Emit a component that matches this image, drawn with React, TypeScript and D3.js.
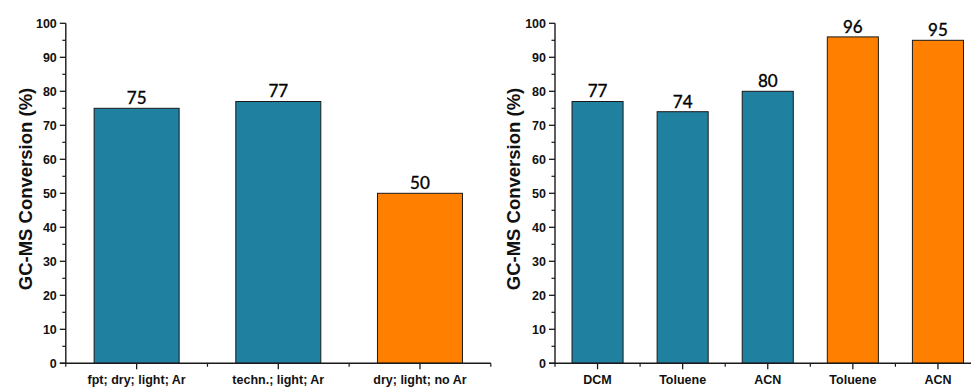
import React from "react";
import * as d3 from "d3";

// Left panel: reaction conditions
const leftCategories = ["fpt; dry; light; Ar", "techn.; light; Ar", "dry; light; no Ar"];
const leftValues = [75, 77, 50];
const leftColors = ["teal", "teal", "orange"];

// Right panel: solvent screen
const rightCategories = ["DCM", "Toluene", "ACN", "Toluene", "ACN"];
const rightValues = [77, 74, 80, 96, 95];
const rightColors = ["teal", "teal", "teal", "orange", "orange"];

const yMajorTicks = [0, 10, 20, 30, 40, 50, 60, 70, 80, 90, 100];
const yMinorTicks = [5, 15, 25, 35, 45, 55, 65, 75, 85, 95];

const yTitle = "GC-MS Conversion (%)";

const palette: Record<string, string> = { teal: "#2080A0", orange: "#FF8000" };

const W = 971;
const H = 388;
const axisColor = "#1a1a1a";

interface PanelProps {
  categories: string[];
  values: number[];
  colors: string[];
  x0: number;
  x1: number;
  titleX: number;
}

function Panel({ categories, values, colors, x0, x1, titleX }: PanelProps) {
  const y = d3.scaleLinear().domain([0, 100]).range([363.3, 23.3]);
  const n = categories.length;
  const x = d3.scaleLinear().domain([0.5, n + 0.5]).range([x0, x1]);
  const bw = (x(1.5) - x(0.5)) * 0.6;
  const minorX = d3.range(0, n + 1).map((i) => i + 0.5);
  const axisY = y(0);

  return (
    <g>
      {/* bars with value labels */}
      {values.map((v, i) => {
        const cx = x(i + 1);
        return (
          <g key={i}>
            <rect
              x={cx - bw / 2}
              y={y(v)}
              width={bw}
              height={axisY - y(v)}
              fill={palette[colors[i]]}
              stroke={axisColor}
              strokeWidth={1}
            />
            <text
              x={cx}
              y={y(v) - 4.2}
              textAnchor="middle"
              fontFamily="Lato, 'Open Sans', sans-serif"
              fontSize={17}
              fill="#000"
              stroke="#000"
              strokeWidth={0.35}
            >
              {v}
            </text>
          </g>
        );
      })}
      {/* y axis */}
      <line x1={x0} x2={x0} y1={y(100)} y2={axisY + 0.7} stroke={axisColor} strokeWidth={1.4} />
      {yMajorTicks.map((t) => (
        <g key={"ym" + t}>
          <line x1={x0 - 6} x2={x0} y1={y(t)} y2={y(t)} stroke={axisColor} strokeWidth={1.3} />
          <text
            x={x0 - 9}
            y={y(t) + 4.5}
            textAnchor="end"
            fontFamily="'Liberation Sans', Arial, sans-serif"
            fontWeight="bold"
            fontSize={12.5}
            fill="#111"
          >
            {t}
          </text>
        </g>
      ))}
      {yMinorTicks.map((t) => (
        <line key={"yn" + t} x1={x0 - 3.5} x2={x0} y1={y(t)} y2={y(t)} stroke={axisColor} strokeWidth={1.2} />
      ))}
      {/* x axis */}
      <line x1={x0 - 6} x2={x1} y1={axisY} y2={axisY} stroke={axisColor} strokeWidth={1.4} />
      {categories.map((c, i) => (
        <g key={"xc" + i}>
          <line x1={x(i + 1)} x2={x(i + 1)} y1={axisY} y2={axisY + 6} stroke={axisColor} strokeWidth={1.3} />
          <text
            x={x(i + 1)}
            y={384}
            textAnchor="middle"
            fontFamily="'Liberation Sans', Arial, sans-serif"
            fontWeight="bold"
            fontSize={12.5}
            fill="#111"
          >
            {c}
          </text>
        </g>
      ))}
      {minorX.map((m) => (
        <line key={"xn" + m} x1={x(m)} x2={x(m)} y1={axisY} y2={axisY + 3.5} stroke={axisColor} strokeWidth={1.2} />
      ))}
      {/* y title */}
      <text
        transform={`translate(${titleX},189) rotate(-90)`}
        textAnchor="middle"
        fontFamily="'Liberation Sans', Arial, sans-serif"
        fontWeight="bold"
        fontSize={18.5}
        fill="#111"
      >
        {yTitle}
      </text>
    </g>
  );
}

export default function App() {
  return (
    <svg
      width={W}
      height={H}
      style={{ position: "absolute", left: 0, top: 0, background: "#fff" }}
    >
      <rect width={W} height={H} fill="#fff" />
      <Panel
        categories={leftCategories}
        values={leftValues}
        colors={leftColors}
        x0={65.8}
        x1={490.8}
        titleX={31.6}
      />
      <Panel
        categories={rightCategories}
        values={rightValues}
        colors={rightColors}
        x0={555}
        x1={980.5}
        titleX={519.5}
      />
    </svg>
  );
}
